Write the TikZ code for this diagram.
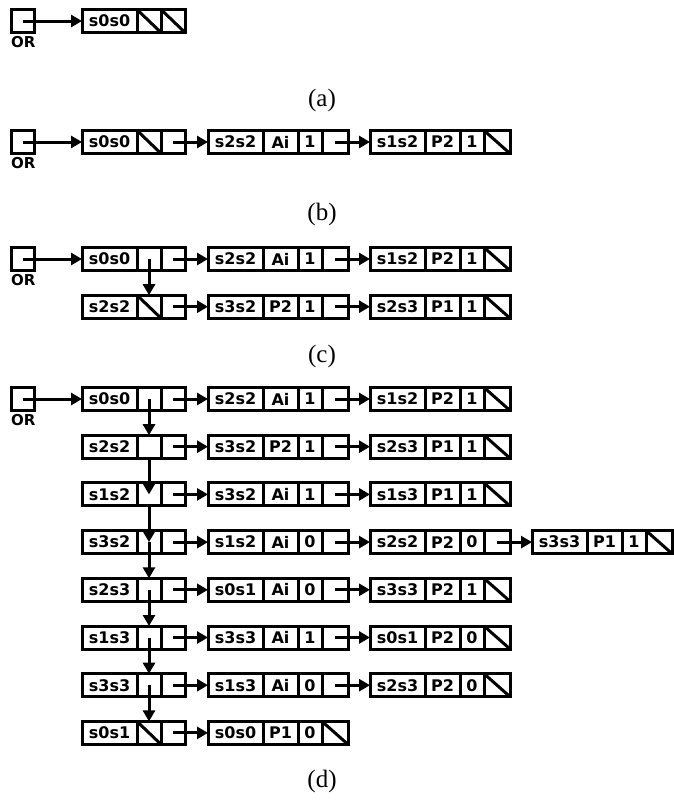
\documentclass[tikz,border=0pt]{standalone}
\usepackage{fontspec}
\setmainfont{Liberation Serif}
\newfontfamily\cellfont{DejaVu Sans}
\usetikzlibrary{arrows.meta}
\tikzset{
  cellbox/.style={draw, line width=3pt, rectangle, inner sep=0pt, outer sep=0pt,
    minimum height=23pt, font=\cellfont\bfseries\fontsize{16}{16}\selectfont},
  ptr/.style={line width=3pt},
  arr/.style={line width=3pt, -{Triangle[length=11pt,width=12pt]}},
  lbl/.style={font=\cellfont\bfseries\fontsize{15}{15}\selectfont, inner sep=0pt, anchor=north west},
  captext/.style={font=\fontsize{25}{25}\selectfont, inner sep=0pt}
}
\newcommand{\orbox}[3]{%
  \node[cellbox, minimum width=23pt, anchor=west] (#1) at (#2,#3) {};
  \node[lbl] (#1t) at ([yshift=-4pt]#1.south west) {OR};}
\newcommand{\headnode}[4]{%
  \node[cellbox, minimum width=55pt, anchor=west] (#1) at (#2,#3) {#4};
  \node[cellbox, minimum width=24pt, anchor=west] (#1a) at (#1.east) {};
  \node[cellbox, minimum width=24pt, anchor=west] (#1b) at (#1a.east) {};}
\newcommand{\listnode}[6]{%
  \node[cellbox, minimum width=55pt, anchor=west] (#1) at (#2,#3) {#4};
  \node[cellbox, minimum width=35pt, anchor=west] (#1l) at (#1.east) {#5};
  \node[cellbox, minimum width=24pt, anchor=west] (#1n) at (#1l.east) {#6};
  \node[cellbox, minimum width=26pt, anchor=west] (#1p) at (#1n.east) {};}
\newcommand{\nullp}[1]{\draw[ptr] (#1.north west) -- (#1.south east);}
\newcommand{\nextp}[2]{\draw[arr] (#1.center) -- (#2.west);}
\begin{document}
\begin{tikzpicture}[x=1pt, y=-1pt]
\useasboundingbox (0,0) rectangle (673,801);
% ---------------- (a)
\orbox{ora}{11}{21}
\headnode{ah}{82}{21}{s0s0}
\draw[arr] (ora.center) -- (ah.west);
\nullp{aha}\nullp{ahb}
\node[captext] (capa) at (322,100) {(a)};
% ---------------- (b)
\orbox{orb}{11}{142}
\headnode{bh}{82}{142}{s0s0}
\listnode{b1}{208}{142}{s2s2}{Ai}{1}
\listnode{b2}{370}{142}{s1s2}{P2}{1}
\draw[arr] (orb.center) -- (bh.west);
\nullp{bha}\nextp{bhb}{b1}\nextp{b1p}{b2}\nullp{b2p}
\node[captext] (capb) at (322,214) {(b)};
% ---------------- (c)
\orbox{orc}{11}{259}
\headnode{ch1}{82}{259}{s0s0}
\listnode{c11}{208}{259}{s2s2}{Ai}{1}
\listnode{c12}{370}{259}{s1s2}{P2}{1}
\headnode{ch2}{82}{306.7}{s2s2}
\listnode{c21}{208}{306.7}{s3s2}{P2}{1}
\listnode{c22}{370}{306.7}{s2s3}{P1}{1}
\draw[arr] (orc.center) -- (ch1.west);
\draw[arr] (ch1a.center) -- (ch2a.north);
\nextp{ch1b}{c11}\nextp{c11p}{c12}\nullp{c12p}
\nullp{ch2a}\nextp{ch2b}{c21}\nextp{c21p}{c22}\nullp{c22p}
\node[captext] (capc) at (322,356) {(c)};
% ---------------- (d)
\orbox{ord}{11}{399}
\headnode{dh1}{82}{399}{s0s0}
\listnode{d11}{208}{399}{s2s2}{Ai}{1}
\listnode{d12}{370}{399}{s1s2}{P2}{1}
\headnode{dh2}{82}{446.7}{s2s2}
\listnode{d21}{208}{446.7}{s3s2}{P2}{1}
\listnode{d22}{370}{446.7}{s2s3}{P1}{1}
\headnode{dh3}{82}{494.4}{s1s2}
\listnode{d31}{208}{494.4}{s3s2}{Ai}{1}
\listnode{d32}{370}{494.4}{s1s3}{P1}{1}
\headnode{dh4}{82}{542.1}{s3s2}
\listnode{d41}{208}{542.1}{s1s2}{Ai}{0}
\listnode{d42}{370}{542.1}{s2s2}{P2}{0}
\listnode{d43}{532}{542.1}{s3s3}{P1}{1}
\headnode{dh5}{82}{589.8}{s2s3}
\listnode{d51}{208}{589.8}{s0s1}{Ai}{0}
\listnode{d52}{370}{589.8}{s3s3}{P2}{1}
\headnode{dh6}{82}{637.5}{s1s3}
\listnode{d61}{208}{637.5}{s3s3}{Ai}{1}
\listnode{d62}{370}{637.5}{s0s1}{P2}{0}
\headnode{dh7}{82}{685.2}{s3s3}
\listnode{d71}{208}{685.2}{s1s3}{Ai}{0}
\listnode{d72}{370}{685.2}{s2s3}{P2}{0}
\headnode{dh8}{82}{732.9}{s0s1}
\listnode{d81}{208}{732.9}{s0s0}{P1}{0}
\draw[arr] (ord.center) -- (dh1.west);
% vertical chain
\draw[arr] (dh1a.center) -- (dh2a.north);
\draw[arr] (dh2a.south) -- (dh3a.center);
\draw[arr] (dh3a.south) -- (dh4a.center);
\draw[arr] (dh4a.center) -- (dh5a.north);
\draw[arr] (dh5a.center) -- (dh6a.north);
\draw[arr] (dh6a.center) -- (dh7a.north);
\draw[arr] (dh7a.center) -- (dh8a.north);
\nullp{dh8a}
% horizontal chains
\nextp{dh1b}{d11}\nextp{d11p}{d12}\nullp{d12p}
\nextp{dh2b}{d21}\nextp{d21p}{d22}\nullp{d22p}
\nextp{dh3b}{d31}\nextp{d31p}{d32}\nullp{d32p}
\nextp{dh4b}{d41}\nextp{d41p}{d42}\nextp{d42p}{d43}\nullp{d43p}
\nextp{dh5b}{d51}\nextp{d51p}{d52}\nullp{d52p}
\nextp{dh6b}{d61}\nextp{d61p}{d62}\nullp{d62p}
\nextp{dh7b}{d71}\nextp{d71p}{d72}\nullp{d72p}
\nextp{dh8b}{d81}\nullp{d81p}
\node[captext] (capd) at (322,781) {(d)};
\end{tikzpicture}
\end{document}
